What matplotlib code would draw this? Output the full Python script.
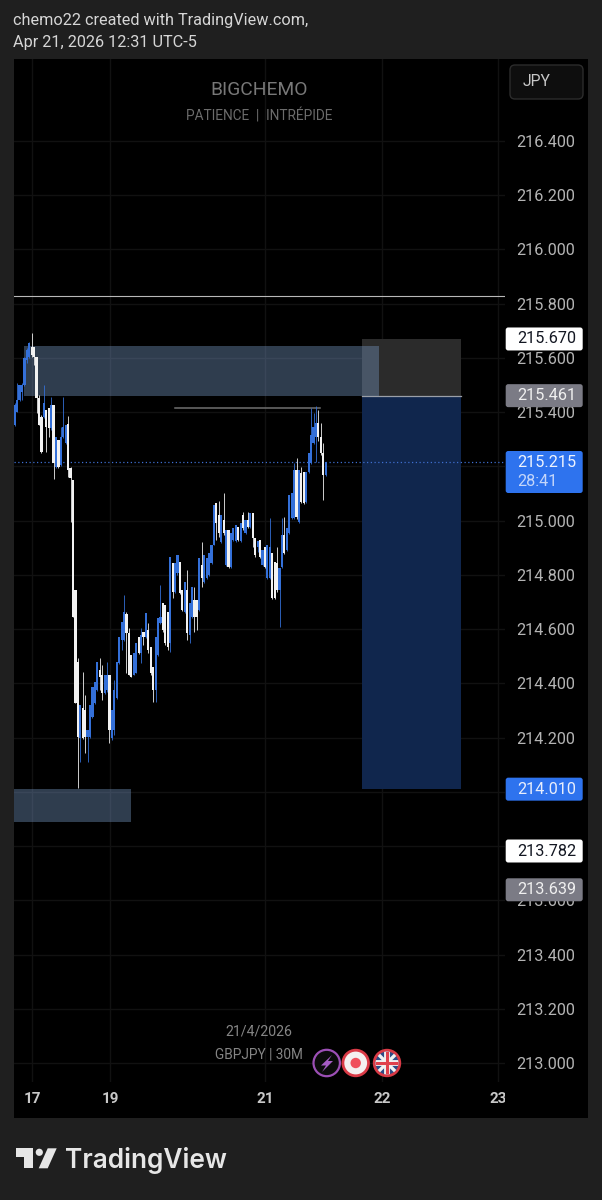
#!/usr/bin/env python3
"""GBPJPY 30M TradingView snapshot with zones and a long position tool."""

import matplotlib
matplotlib.use("Agg")
import matplotlib.pyplot as plt
import numpy as np
from matplotlib.patches import Circle, FancyBboxPatch, Polygon, Rectangle
from matplotlib.transforms import Bbox

plt.rcParams['font.family'] = ['Roboto', 'DejaVu Sans']

# 30M candles
opens = [215.353, 215.401, 215.445, 215.475, 215.501, 215.593, 215.604, 215.641, 215.641, 215.604,
         215.452, 215.382, 215.382, 215.408, 215.416, 215.342, 215.427, 215.198, 215.298, 215.206,
         215.309, 215.287, 215.357, 215.194, 215.150, 214.745, 214.479, 214.199, 214.310, 214.302,
         214.203, 214.203, 214.276, 214.328, 214.376, 214.450, 214.431, 214.365, 214.376, 214.431,
         214.199, 214.228, 214.346, 214.476, 214.560, 214.560, 214.656, 214.586, 214.505, 214.431,
         214.439, 214.571, 214.512, 214.590, 214.571, 214.597, 214.534, 214.461, 214.376, 214.505,
         214.623, 214.697, 214.689, 214.664, 214.549, 214.844, 214.737, 214.807, 214.848, 214.745,
         214.664, 214.745, 214.579, 214.645, 214.708, 214.708, 214.671, 214.837, 214.774, 214.789,
         214.800, 214.844, 214.911, 215.065, 215.021, 214.922, 215.003, 214.837, 214.966, 214.829,
         214.929, 214.925, 214.977, 214.925, 215.021, 214.955, 215.003, 214.977, 215.029, 214.936,
         214.903, 214.929, 214.837, 214.903, 214.789, 214.789, 214.881, 214.848, 214.844, 214.745,
         214.829, 214.947, 214.892, 214.955, 215.010, 215.010, 215.187, 214.995, 215.176, 215.180,
         215.069, 215.180, 215.213, 215.287, 215.309, 215.360, 215.309, 215.250, 215.169]
highs = [215.434, 215.508, 215.501, 215.508, 215.604, 215.637, 215.659, 215.692, 215.641, 215.604,
         215.464, 215.390, 215.501, 215.408, 215.416, 215.456, 215.427, 215.309, 215.298, 215.346,
         215.456, 215.353, 215.386, 215.198, 215.150, 214.745, 214.494, 214.321, 214.442, 214.357,
         214.228, 214.321, 214.387, 214.405, 214.479, 214.494, 214.468, 214.431, 214.479, 214.431,
         214.302, 214.413, 214.479, 214.571, 214.627, 214.726, 214.664, 214.605, 214.505, 214.512,
         214.549, 214.571, 214.605, 214.590, 214.660, 214.623, 214.534, 214.461, 214.571, 214.641,
         214.763, 214.697, 214.689, 214.664, 214.866, 214.844, 214.844, 214.874, 214.848, 214.745,
         214.774, 214.818, 214.697, 214.756, 214.756, 214.708, 214.863, 214.922, 214.874, 214.863,
         214.881, 214.911, 215.058, 215.065, 215.073, 215.021, 215.102, 214.966, 214.966, 214.955,
         214.973, 214.984, 214.977, 214.992, 215.032, 215.003, 215.032, 215.029, 215.029, 214.936,
         214.925, 214.929, 214.892, 214.903, 214.911, 215.010, 214.881, 214.848, 214.903, 214.826,
         215.010, 215.014, 214.973, 215.095, 215.102, 215.213, 215.231, 215.187, 215.198, 215.180,
         215.180, 215.250, 215.416, 215.397, 215.423, 215.408, 215.360, 215.287, 215.217]
lows = [215.349, 215.401, 215.441, 215.445, 215.497, 215.582, 215.600, 215.604, 215.574, 215.397,
        215.353, 215.250, 215.379, 215.253, 215.309, 215.335, 215.154, 215.194, 215.194, 215.202,
        215.305, 215.283, 215.161, 214.995, 214.645, 214.328, 214.015, 214.111, 214.195, 214.144,
        214.111, 214.199, 214.272, 214.324, 214.372, 214.376, 214.339, 214.361, 214.368, 214.181,
        214.192, 214.210, 214.343, 214.472, 214.523, 214.557, 214.439, 214.431, 214.424, 214.431,
        214.439, 214.509, 214.476, 214.542, 214.568, 214.512, 214.431, 214.332, 214.332, 214.501,
        214.619, 214.590, 214.542, 214.523, 214.516, 214.715, 214.734, 214.800, 214.730, 214.667,
        214.660, 214.560, 214.549, 214.641, 214.590, 214.597, 214.667, 214.756, 214.770, 214.785,
        214.796, 214.840, 214.911, 214.929, 214.940, 214.918, 214.947, 214.833, 214.826, 214.826,
        214.925, 214.922, 214.925, 214.922, 214.966, 214.951, 214.973, 214.973, 214.903, 214.866,
        214.885, 214.863, 214.833, 214.826, 214.785, 214.785, 214.711, 214.711, 214.737, 214.608,
        214.826, 214.877, 214.889, 214.951, 215.006, 215.006, 215.006, 214.992, 215.065, 215.062,
        215.065, 215.176, 215.209, 215.283, 215.217, 215.294, 215.242, 215.077, 215.165]
closes = [215.427, 215.445, 215.501, 215.501, 215.600, 215.630, 215.655, 215.611, 215.604, 215.452,
          215.353, 215.253, 215.434, 215.346, 215.342, 215.427, 215.213, 215.309, 215.198, 215.309,
          215.346, 215.353, 215.187, 215.157, 214.645, 214.328, 214.203, 214.321, 214.199, 214.203,
          214.228, 214.321, 214.387, 214.405, 214.479, 214.424, 214.365, 214.431, 214.431, 214.228,
          214.302, 214.376, 214.479, 214.571, 214.627, 214.664, 214.586, 214.431, 214.424, 214.512,
          214.549, 214.512, 214.579, 214.571, 214.660, 214.523, 214.439, 214.376, 214.571, 214.641,
          214.645, 214.597, 214.549, 214.534, 214.866, 214.737, 214.844, 214.874, 214.734, 214.671,
          214.774, 214.586, 214.697, 214.756, 214.645, 214.645, 214.863, 214.789, 214.874, 214.863,
          214.881, 214.911, 215.058, 214.992, 214.955, 215.021, 214.955, 214.966, 214.829, 214.955,
          214.973, 214.984, 214.929, 214.992, 214.973, 215.003, 214.977, 215.029, 214.936, 214.874,
          214.925, 214.866, 214.892, 214.829, 214.911, 214.903, 214.715, 214.715, 214.745, 214.826,
          214.947, 214.881, 214.973, 215.095, 215.102, 215.187, 215.014, 215.187, 215.069, 215.065,
          215.180, 215.250, 215.316, 215.346, 215.360, 215.309, 215.250, 215.169, 215.215]

# axes
price_ticks = [213.0, 213.2, 213.4, 213.6, 213.8, 214.0, 214.2, 214.4, 214.6, 214.8,
               215.0, 215.2, 215.4, 215.6, 215.8, 216.0, 216.2, 216.4]
day_ticks = [7.1, 39.2, 103.0, 151.2, 199.0]
day_labels = ['17', '19', '21', '22', '23']

# drawings on the chart
resistance_level = 215.828
swing_high_level = 215.415
swing_high_start = 66
swing_high_end = 125.6
last_price = 215.215
upper_zone = (3.8, 150, 215.461, 215.644)
lower_zone = (-1, 47.9, 213.889, 214.010)
position_span = (142.9, 183.7)
stop_price = 215.670
entry_price = 215.461
target_price = 214.010

# price scale tags: value, box colour, text colour
tag_values = [215.670, 215.461, 214.010, 213.782, 213.639]
tag_faces = ['#ffffff', '#7b7b85', '#2e73ee', '#ffffff', '#7b7b85']
tag_texts = ['#131722', '#f0f0f0', '#e8eefc', '#131722', '#f0f0f0']
countdown = '28:41'

BG = '#1f1f1f'
UP = '#3470d9'
DOWN = '#f2f2f2'
TAG_X, TAG_W, TAG_H = 505.7, 77, 23


def px(x0, y_top, x1, y_bottom):
    """Axes rectangle from reference pixels (y counted from the top)."""
    return [x0 / 602, 1 - y_bottom / 1200, (x1 - x0) / 602, (y_bottom - y_top) / 1200]


def draw_candles(ax):
    o, h, l, c = map(np.array, (opens, highs, lows, closes))
    x = np.arange(len(o))
    colors = [UP if up else DOWN for up in c >= o]
    ax.vlines(x, l, h, colors=colors, linewidth=0.7, alpha=0.85, zorder=4)
    ax.bar(x, np.abs(c - o), bottom=np.minimum(o, c), width=0.9, color=colors,
           linewidth=0, zorder=5)


def draw_tools(ax):
    left, right = position_span
    ax.add_patch(Rectangle((left, entry_price), right - left, stop_price - entry_price,
                           facecolor='#2b2b2b', linewidth=0, zorder=1))
    ax.add_patch(Rectangle((left, target_price), right - left, entry_price - target_price,
                           facecolor='#10264d', linewidth=0, zorder=1))
    ax.plot(position_span, [entry_price, entry_price], color='#9a9fa8', lw=0.9, zorder=2)

    for x0, x1, y0, y1 in (upper_zone, lower_zone):
        ax.add_patch(Rectangle((x0, y0), x1 - x0, y1 - y0, facecolor='#6f8eb6',
                               alpha=0.43, linewidth=0, zorder=2))

    ax.axhline(resistance_level, color='#b8b8b8', lw=0.8, zorder=3)
    ax.plot([swing_high_start, swing_high_end], [swing_high_level] * 2,
            color='#707070', lw=1.1, zorder=3)
    ax.axhline(last_price, color='#3f6fd0', lw=0.9, ls=(0, (1, 2)), zorder=3)


def draw_tag(overlay, y, face, text_color, value, height=TAG_H):
    overlay.add_patch(FancyBboxPatch((TAG_X + 2, y - height / 2 + 2), TAG_W - 4, height - 4,
                                     boxstyle='round,pad=2,rounding_size=2.5',
                                     facecolor=face, linewidth=0, zorder=6))
    overlay.text(517, y, value, color=text_color, fontsize=11.7, va='center', ha='left', zorder=7)


def draw_badges(overlay):
    # lightning
    overlay.add_patch(Circle((326.7, 1063), 13.2, facecolor='#0b0b0b', edgecolor='#9c4fb5', lw=1.6))
    overlay.add_patch(Polygon([(332, 1055), (321, 1065.5), (326, 1065.5), (322, 1072),
                               (333, 1061), (328, 1061)], facecolor='#a65cc4', linewidth=0))
    # Japan
    overlay.add_patch(Circle((355.7, 1063), 12.8, facecolor='#f4f0f0', edgecolor='#d93a46', lw=2))
    overlay.add_patch(Circle((355.7, 1063), 5.2, facecolor='#f0505c', linewidth=0))
    # UK
    ring = Circle((387, 1063), 12.8, facecolor='#2b4a86', edgecolor='#d93a46', lw=2, zorder=3)
    overlay.add_patch(ring)
    clip = Circle((387, 1063), 11.5, transform=overlay.transData)
    arms = [((376, 1052), (398, 1074), 2.4, '#f2f2f2'), ((376, 1074), (398, 1052), 2.4, '#f2f2f2'),
            ((375, 1063), (399, 1063), 4.2, '#f2f2f2'), ((387, 1051), (387, 1075), 4.2, '#f2f2f2'),
            ((375, 1063), (399, 1063), 2.2, '#e0404c'), ((387, 1051), (387, 1075), 2.2, '#e0404c')]
    for a, b, lw, col in arms:
        line, = overlay.plot([a[0], b[0]], [a[1], b[1]], color=col, lw=lw, zorder=4,
                             solid_capstyle='butt')
        line.set_clip_path(clip)


def draw_logo(overlay):
    col = '#e6e6e6'
    overlay.add_patch(Polygon([(16, 1148.3), (32.7, 1148.3), (32.7, 1168.3), (24, 1168.3),
                               (24, 1157.3), (16, 1157.3)], facecolor=col, linewidth=0))
    overlay.add_patch(Circle((39.3, 1152.3), 3.6, facecolor=col, linewidth=0))
    overlay.add_patch(Polygon([(47.7, 1148.3), (56.7, 1148.3), (47.7, 1168.3), (38.7, 1168.3)],
                              facecolor=col, linewidth=0))
    overlay.text(65.5, 1160, 'TradingView', color=col, fontsize=18.9, fontweight='semibold',
                 family=['Inter', 'DejaVu Sans'], va='center', ha='left')


def main():
    fig = plt.figure(figsize=(6.02, 12), dpi=100, facecolor=BG)

    # black chart panel behind the plot and both scales
    panel = fig.add_axes(px(14, 59, 588, 1118), zorder=0)
    panel.set_facecolor('#000000')
    panel.set_xticks([])
    panel.set_yticks([])
    for spine in panel.spines.values():
        spine.set_visible(False)

    ax = fig.add_axes(px(14, 59, 505, 1082), zorder=1)
    ax.set_facecolor('none')
    ax.set_xlim(-0.29, 201.8)
    ax.set_ylim(216.4 - 941 / 271.2, 216.4 + 82 / 271.2)
    for spine in ax.spines.values():
        spine.set_visible(False)

    ax.grid(True, color='#111111', lw=1, zorder=0)
    ax.set_axisbelow(True)
    ax.yaxis.tick_right()
    ax.set_yticks(price_ticks, [f'{p:.3f}' for p in price_ticks])
    ax.set_xticks(day_ticks, day_labels)
    ax.tick_params(axis='y', length=0, pad=8.2, labelsize=11.7, labelcolor='#b4b4b4')
    ax.tick_params(axis='x', length=0, pad=7, labelsize=11, labelcolor='#c8c8c8')
    clip_box = Bbox.from_extents(0, 0, 505, 1200)
    for label in ax.get_xticklabels():
        label.set_fontweight('bold')
        label.set_clip_box(clip_box)
        label.set_clip_on(True)

    draw_tools(ax)
    draw_candles(ax)

    # everything else is placed in picture pixels
    overlay = fig.add_axes([0, 0, 1, 1], zorder=2)
    overlay.set_xlim(0, 602)
    overlay.set_ylim(1200, 0)
    overlay.axis('off')

    def price_y(price):
        point = ax.transData.transform((0, price))
        return overlay.transData.inverted().transform(point)[1]

    for value, face, text_color in zip(tag_values, tag_faces, tag_texts):
        draw_tag(overlay, price_y(value), face, text_color, f'{value:.3f}')

    # last price tag with the bar countdown
    overlay.add_patch(FancyBboxPatch((TAG_X + 2, 453), TAG_W - 4, 38,
                                     boxstyle='round,pad=2,rounding_size=2.5',
                                     facecolor='#2e73ee', linewidth=0, zorder=6))
    overlay.text(517, price_y(last_price), f'{last_price:.3f}', color='#eef3fe', fontsize=11.7,
                 va='center', zorder=7)
    overlay.text(517, 482, countdown, color='#c4d6fa', fontsize=11.7, va='center', zorder=7)

    # currency button
    overlay.add_patch(FancyBboxPatch((512, 67), 69, 30, boxstyle='round,pad=2,rounding_size=5',
                                     facecolor='#0e0e0e', edgecolor='#2c2c2c', lw=1))
    overlay.text(537, 82, 'JPY', color='#c8c8c8', fontsize=11.3, ha='center', va='center')

    # header and watermark
    overlay.text(13, 20, 'chemo22 created with TradingView.com,', color='#d6d6d6', fontsize=11.7,
                 va='center')
    overlay.text(13, 43, 'Apr 21, 2026 12:31 UTC-5', color='#d6d6d6', fontsize=11.7, va='center')
    overlay.text(259, 90, 'BIGCHEMO', color='#787878', fontsize=13.9, ha='center', va='center')
    overlay.text(259, 116, 'PATIENCE  |  INTRÉPIDE', color='#6c6c6c', fontsize=9.8,
                 ha='center', va='center')
    overlay.text(259, 1032, '21/4/2026', color='#858585', fontsize=10.2, ha='center', va='center')
    overlay.text(259, 1055, 'GBPJPY | 30M', color='#858585', fontsize=9.8, ha='center', va='center')

    draw_badges(overlay)
    draw_logo(overlay)

    fig.savefig('out.png', dpi=100, facecolor=BG)


if __name__ == "__main__":
    main()
